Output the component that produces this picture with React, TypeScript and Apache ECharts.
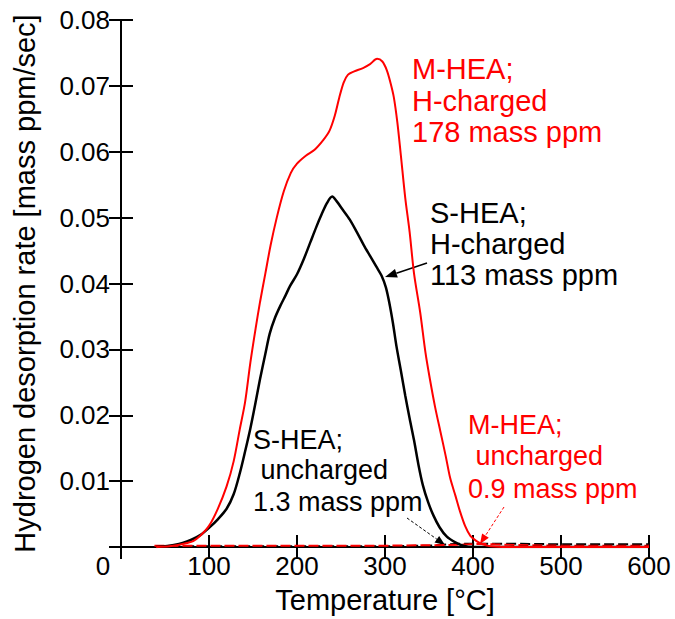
import React, { useEffect, useRef } from "react";
import * as echarts from "echarts";

// ---- data ----
const xTickValues = [0, 100, 200, 300, 400, 500, 600];
const yTickValues = [0, 0.01, 0.02, 0.03, 0.04, 0.05, 0.06, 0.07, 0.08];

// M-HEA; H-charged 178 mass ppm
const mHeaChargedT = [40, 55, 65, 75, 82, 90, 100, 110, 120, 128, 135, 141, 147, 153, 158, 164, 170, 177, 185, 193, 200, 210, 220, 230, 237, 243, 248, 253, 258, 265, 275, 283, 291, 297, 302, 306, 310, 314, 318, 323, 328, 333, 340, 346, 351, 357, 363, 369, 374, 380, 385, 391, 397, 404, 411, 420, 440, 600];
const mHeaChargedV = [0, 0.0001, 0.0003, 0.0006, 0.0009, 0.0017, 0.0032, 0.0058, 0.0092, 0.013, 0.0179, 0.022, 0.028, 0.0332, 0.0372, 0.0415, 0.0458, 0.05, 0.054, 0.0568, 0.0582, 0.0594, 0.0603, 0.0618, 0.0632, 0.0655, 0.0682, 0.0705, 0.0717, 0.0722, 0.0727, 0.0733, 0.0741, 0.0737, 0.0724, 0.0706, 0.0683, 0.0645, 0.0595, 0.053, 0.0478, 0.0415, 0.0356, 0.0295, 0.0255, 0.0212, 0.0175, 0.0138, 0.0105, 0.0078, 0.0055, 0.0032, 0.0017, 0.0009, 0.0004, 0.0001, 0, 0];

// S-HEA; H-charged 113 mass ppm
const sHeaChargedT = [40, 50, 60, 70, 80, 90, 100, 110, 120, 128, 135, 141, 147, 153, 158, 164, 169, 175, 181, 187, 192, 200, 208, 215, 222, 228, 234, 240, 245, 252, 260, 268, 276, 283, 290, 296, 301, 305, 309, 313, 318, 323, 328, 333, 338, 343, 349, 355, 362, 370, 380, 389, 400, 600];
const sHeaChargedV = [0, 0.0001, 0.0003, 0.0006, 0.0011, 0.0018, 0.0029, 0.0042, 0.0058, 0.008, 0.0112, 0.0145, 0.018, 0.022, 0.0255, 0.0293, 0.0324, 0.0348, 0.0366, 0.0382, 0.0396, 0.0414, 0.0438, 0.0462, 0.0486, 0.0505, 0.0522, 0.0532, 0.0525, 0.0512, 0.0497, 0.0478, 0.0458, 0.0442, 0.0426, 0.0412, 0.0394, 0.037, 0.034, 0.0305, 0.0268, 0.023, 0.0195, 0.0162, 0.0125, 0.0094, 0.0068, 0.0048, 0.003, 0.0016, 0.0007, 0.0002, 0, 0];

// M-HEA; uncharged 0.9 mass ppm
const mHeaUnchargedT = [38, 100, 200, 300, 370, 395, 410, 425, 450, 500, 600];
const mHeaUnchargedV = [0.0002, 0.0002, 0.0002, 0.0002, 0.0003, 0.0004, 0.0005, 0.0004, 0.0003, 0.0002, 0.0002];

// S-HEA; uncharged 1.3 mass ppm
const sHeaUnchargedT = [40, 100, 200, 300, 350, 370, 390, 420, 450, 500, 600];
const sHeaUnchargedV = [0.0001, 0.0001, 0.0001, 0.0001, 0.0002, 0.0004, 0.0005, 0.0005, 0.0005, 0.0004, 0.0004];

const xTitle = "Temperature [°C]";
const yTitle = "Hydrogen desorption rate [mass ppm/sec]";

const annRedTop = ["M-HEA;", "H-charged", "178 mass ppm"];
const annBlackTop = ["S-HEA;", "H-charged", "113 mass ppm"];
const annBlackLow = ["S-HEA;", " uncharged", "1.3 mass ppm"];
const annRedLow = ["M-HEA;", " uncharged", "0.9 mass ppm"];

const FONT = "'Liberation Sans', Arial, Helvetica, sans-serif";
const RED = "#ff0000";
const BLACK = "#000000";

function pairs(t: number[], v: number[]) {
  return t.map((x, i) => [x, v[i]]);
}

function textLines(lines: string[], x: number, ys: number[], color: string, size: number) {
  return lines.map((s, i) => ({
    type: "text",
    x,
    y: ys[i],
    silent: true,
    style: {
      text: s,
      fill: color,
      font: `${size}px ${FONT}`,
      textAlign: "left",
      textVerticalAlign: "middle",
    },
  }));
}

function arrow(x1: number, y1: number, x2: number, y2: number, color: string, width: number, dashed: boolean, headLen: number, headW: number) {
  const dx = x2 - x1;
  const dy = y2 - y1;
  const L = Math.sqrt(dx * dx + dy * dy);
  const ux = dx / L;
  const uy = dy / L;
  const bx = x2 - ux * headLen;
  const by = y2 - uy * headLen;
  const px = -uy * headW;
  const py = ux * headW;
  return [
    {
      type: "line",
      silent: true,
      shape: { x1, y1, x2: bx, y2: by },
      style: { stroke: color, lineWidth: width, lineDash: dashed ? [3, 2] : null },
    },
    {
      type: "polygon",
      silent: true,
      shape: { points: [[x2, y2], [bx + px, by + py], [bx - px, by - py]] },
      style: { fill: color },
    },
  ];
}

export default function App() {
  const ref = useRef<HTMLDivElement>(null);
  useEffect(() => {
    document.body.style.margin = "0";
    const chart = echarts.init(ref.current!, null, { renderer: "svg" });
    const axisLine = { show: true, lineStyle: { color: BLACK, width: 2 } };
    const tick = { show: true, inside: true, length: 12, lineStyle: { color: BLACK, width: 2 } };
    chart.setOption({
      animation: false,
      backgroundColor: "#ffffff",
      grid: { left: 121, right: 26, top: 20, bottom: 71, containLabel: false },
      xAxis: [
        {
          type: "value",
          min: xTickValues[0],
          max: xTickValues[xTickValues.length - 1],
          interval: 100,
          position: "bottom",
          name: xTitle,
          nameLocation: "middle",
          nameGap: 38,
          nameTextStyle: { color: BLACK, fontSize: 29, fontFamily: FONT },
          axisLine,
          axisTick: tick,
          splitLine: { show: false },
          axisLabel: {
            color: BLACK,
            fontSize: 26,
            fontFamily: FONT,
            margin: 6,
            formatter: (v: number) => (v === 0 ? "{z|0}" : String(v)),
            rich: { z: { fontSize: 26, fontFamily: FONT, color: BLACK, padding: [0, 36, 0, 0] } },
          },
        },
        {
          type: "value",
          min: xTickValues[0],
          max: xTickValues[xTickValues.length - 1],
          interval: 100,
          position: "top",
          axisLine,
          axisTick: tick,
          axisLabel: { show: false },
          splitLine: { show: false },
        },
      ],
      yAxis: [
        {
          type: "value",
          min: yTickValues[0],
          max: yTickValues[yTickValues.length - 1],
          interval: 0.01,
          position: "left",
          name: yTitle,
          nameLocation: "middle",
          nameGap: 82,
          nameTextStyle: { color: BLACK, fontSize: 29, fontFamily: FONT },
          axisLine,
          axisTick: tick,
          splitLine: { show: false },
          axisLabel: {
            color: BLACK,
            fontSize: 26,
            fontFamily: FONT,
            margin: 11,
            formatter: (v: number) => (v === 0 ? "" : v.toFixed(2)),
          },
        },
        {
          type: "value",
          min: yTickValues[0],
          max: yTickValues[yTickValues.length - 1],
          interval: 0.01,
          position: "right",
          axisLine,
          axisTick: tick,
          axisLabel: { show: false },
          splitLine: { show: false },
        },
      ],
      series: [
        {
          name: "S-HEA; uncharged",
          type: "line",
          data: pairs(sHeaUnchargedT, sHeaUnchargedV),
          showSymbol: false,
          lineStyle: { color: BLACK, width: 2, type: [10, 4] },
          z: 3,
        },
        {
          name: "M-HEA; uncharged",
          type: "line",
          data: pairs(mHeaUnchargedT, mHeaUnchargedV),
          showSymbol: false,
          lineStyle: { color: RED, width: 2, type: [10, 4] },
          z: 3,
        },
        {
          name: "S-HEA; H-charged",
          type: "line",
          data: pairs(sHeaChargedT, sHeaChargedV),
          showSymbol: false,
          smooth: 0.3,
          lineStyle: { color: BLACK, width: 2.5 },
          z: 4,
        },
        {
          name: "M-HEA; H-charged",
          type: "line",
          data: pairs(mHeaChargedT, mHeaChargedV),
          showSymbol: false,
          smooth: 0.3,
          lineStyle: { color: RED, width: 2 },
          z: 5,
        },
      ],
      graphic: [
        ...textLines(annRedTop, 412, [69, 100.5, 132], RED, 29),
        ...textLines(annBlackTop, 430, [212.5, 243.5, 275], BLACK, 29),
        ...textLines(annBlackLow, 253, [440, 470, 502], BLACK, 27),
        ...textLines(annRedLow, 468, [425, 456, 489], RED, 27),
        ...arrow(427, 263, 385, 277, BLACK, 1.5, false, 12, 4.5),
        ...arrow(407, 518, 445, 545, BLACK, 1, true, 10, 4),
        ...arrow(504, 507, 480, 544, RED, 1, true, 10, 4),
      ],
    });
    return () => chart.dispose();
  }, []);
  return <div ref={ref} style={{ width: 675, height: 619 }} />;
}
